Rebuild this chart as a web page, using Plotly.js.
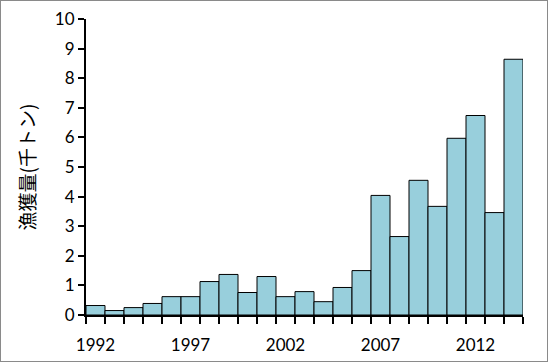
<!DOCTYPE html>
<html>
<head>
<meta charset="utf-8">
<script src="https://cdn.plot.ly/plotly-3.0.1.min.js"></script>
<style>
  html, body { margin: 0; padding: 0; background: #fff; }
  #chart { width: 546px; height: 360px; border: 1px solid #8a8a8a; }
</style>
</head>
<body>
<div id="chart"></div>
<script>
const years = [1992,1993,1994,1995,1996,1997,1998,1999,2000,2001,2002,2003,2004,2005,2006,2007,2008,2009,2010,2011,2012,2013,2014];
const catch_kt = [0.32,0.15,0.25,0.39,0.62,0.62,1.13,1.37,0.76,1.30,0.62,0.79,0.45,0.93,1.50,4.04,2.65,4.55,3.67,5.97,6.74,3.46,8.64];
const xTickLabels = [1992,1997,2002,2007,2012];
const yTicks = [0,1,2,3,4,5,6,7,8,9,10];

const tickFont = {family: 'Lato, "Open Sans", sans-serif', size: 17, color: '#000'};

Plotly.newPlot('chart', [{
  type: 'bar',
  x: years,
  y: catch_kt,
  width: 1,
  marker: {color: '#98cfdc', line: {color: '#000', width: 1}},
  hoverinfo: 'skip'
}], {
  width: 546, height: 360,
  margin: {l: 85, r: 24, t: 18, b: 46, pad: 0},
  paper_bgcolor: '#fff', plot_bgcolor: '#fff',
  showlegend: false,
  bargap: 0,
  xaxis: {
    range: [years[0] - 0.5, years[years.length - 1] + 0.5],
    tickmode: 'array', tickvals: xTickLabels, ticktext: xTickLabels.map(String),
    ticks: '', ticklen: 0, tickfont: tickFont, ticklabelstandoff: 14,
    showline: true, linecolor: '#000', linewidth: 2,
    showgrid: false, zeroline: false, fixedrange: true,
    minor: {tick0: years[0] - 0.5, dtick: 1, ticks: 'outside', ticklen: 7, tickwidth: 2, tickcolor: '#000', showgrid: false}
  },
  yaxis: {
    range: [0, 10],
    tickmode: 'array', tickvals: yTicks, ticktext: yTicks.map(String),
    ticks: 'outside', ticklen: 6, tickwidth: 2, tickcolor: '#000',
    tickfont: tickFont,
    showline: true, linecolor: '#000', linewidth: 2,
    showgrid: false, zeroline: false, fixedrange: true,
    title: {text: '漁獲量(千トン)', font: {family: '"Noto Sans CJK JP", sans-serif', size: 19, color: '#000'}, standoff: 14}
  }
}, {staticPlot: true, displayModeBar: false});
</script>
</body>
</html>
